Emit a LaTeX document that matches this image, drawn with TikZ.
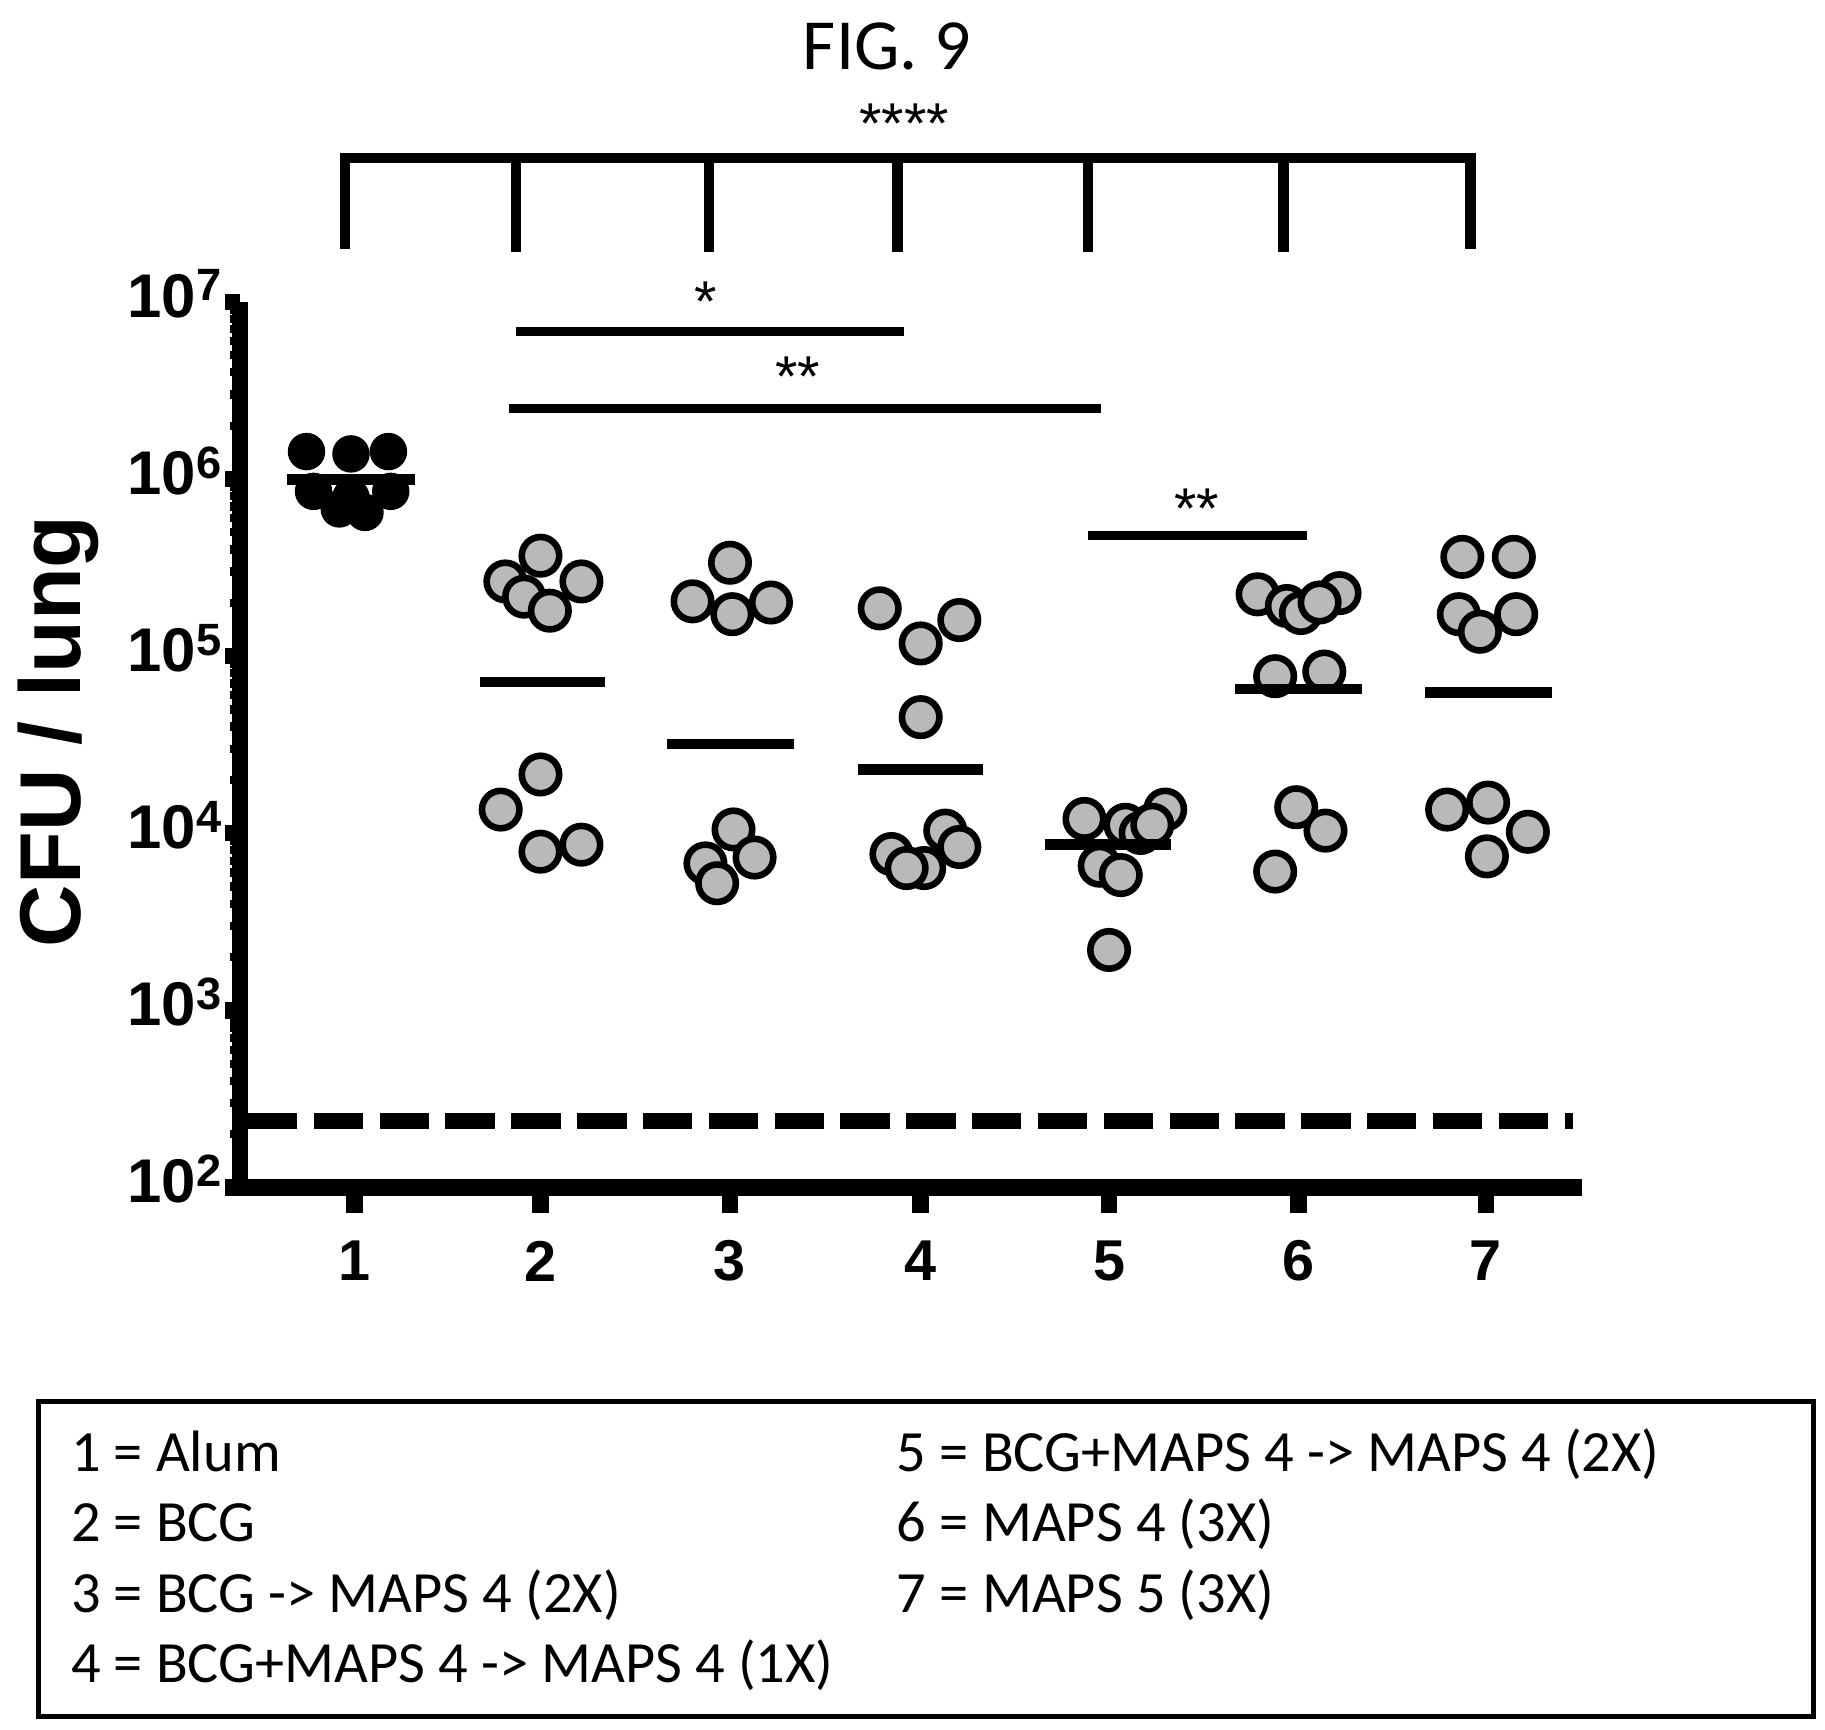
\documentclass[tikz,border=0pt]{standalone}
\usepackage{fontspec}
\setmainfont{Carlito}
\newfontfamily\arialf{Liberation Sans}
\usetikzlibrary{positioning}
\begin{document}
\begin{tikzpicture}[x=0.01cm,y=-0.01cm]
        % Define styles
        \tikzset{
            axis/.style={line width=4pt},
            bar/.style={line width=2.6pt},
            sig/.style={line width=2.2pt},
            mean/.style={line width=2.6pt},
            dot/.style={circle, draw=black, line width=1.6pt, fill=gray!55, minimum size=0.32cm, inner sep=0pt},
            blk/.style={circle, fill=black, minimum size=0.32cm, inner sep=0pt},
            ticklab/.style={font=\arialf\bfseries\fontsize{15}{17}\selectfont, anchor=east, inner sep=0pt},
            grplab/.style={font=\arialf\bfseries\fontsize{14}{16}\selectfont},
            stars/.style={font=\arialf\fontsize{14}{14}\selectfont},
            legend/.style={font=\fontsize{14.2}{17}\selectfont, anchor=base west, inner sep=0pt}
        }
        \useasboundingbox (0,0) rectangle (1560,1478);
        % Title
        \node[font=\fontsize{17.5}{20}\selectfont] (title) at (758,40) {FIG. 9};
        % Top bracket
        \coordinate (b1) at (295,213);
        \coordinate (b7) at (1257,213);
        \draw[bar] (b1) -- (295,135) -- (1257,135) -- (b7);
        \foreach \x in {441,606,767,930,1097} \draw[bar] (\x,135) -- (\x,215);
        \node[stars] (s4) at (773,106) {****};
        % Axes
        \coordinate (o) at (205,1015);
        \coordinate (ytop) at (205,258);
        \coordinate (xend) at (1352,1015);
        \draw[axis] (ytop) -- (o) -- (xend);
        % Major ticks and labels
        \foreach \e [count=\i from 0] in {2,...,7} {
            \draw[axis] (205,1015-151.4*\i) -- (192,1015-151.4*\i);
            \node[ticklab] at (190,1008-151.4*\i) {10\raisebox{0.5ex}{\fontsize{11}{12}\selectfont\e}};
        }
        % Minor ticks
        \foreach \i in {0,...,4}
            \foreach \m in {2,...,9}
                \draw[line width=2pt] ({205},{1015-151.4*\i-151.4*log10(\m)}) -- ({197},{1015-151.4*\i-151.4*log10(\m)});
        % Y label
        \node[font=\arialf\bfseries\fontsize{21}{24}\selectfont, rotate=90] (ylab) at (50,625) {CFU / lung};
        % Detection limit
        \draw[line width=4pt, dash pattern=on 12pt off 4pt] (212,958) -- (1345,958);
        % Group ticks and labels
        \foreach \x [count=\g] in {303,462,624,787,948,1110,1270} {
            \draw[axis] (\x,1015) -- (\x,1037);
            \node[grplab] (g\g) at (\x,1078) {\g};
        }
        % Significance lines
        \draw[sig] (441,283) -- (773,283);
        \node[stars] at (603,258) {*};
        \draw[sig] (435,349) -- (941,349);
        \node[stars] at (682,322) {**};
        \draw[sig] (930,458) -- (1117,458);
        \node[stars] at (1023,435) {**};
        % Group 1 (black)
        \foreach \p in {(262,386),(300,388),(332,386),(268,420),(290,435),(312,438),(334,420),(300,425)}
            \node[blk] at \p {};
        % Other groups
        \foreach \p in {(462,475),(432,497),(448,510),(497,497),(470,522),(428,692),(462,662),(462,728),(497,722),
                        (624,481),(592,514),(626,525),(659,515),(627,709),(603,738),(613,755),(645,733),
                        (752,520),(820,530),(787,550),(787,613),(762,730),(808,710),(790,742),(820,724),(775,742),
                        (927,700),(962,705),(996,692),(975,712),(940,740),(958,748),(948,812),(985,705),
                        (1075,508),(1100,518),(1112,524),(1145,507),(1128,515),(1090,578),(1132,574),(1108,690),(1133,710),(1090,745),
                        (1250,476),(1294,476),(1247,525),(1265,540),(1296,525),(1237,692),(1272,686),(1306,711),(1271,732)}
            \node[dot] at \p {};
        % Means
        \draw[mean] (245,410) -- (355,410);
        \draw[mean] (410,583) -- (517,583);
        \draw[mean] (570,636) -- (679,636);
        \draw[mean] (733,658) -- (840,658);
        \draw[mean] (893,722) -- (1001,722);
        \draw[mean] (1056,589) -- (1164,589);
        \draw[mean] (1218,592) -- (1327,592);
        % Legend
        \draw[line width=1.2pt] (33,1198) rectangle (1550,1467);
        \node[legend] (l1) at (60,1258) {1 = Alum};
        \node[legend] (l2) at (60,1318) {2 = BCG};
        \node[legend] (l3) at (60,1378) {3 = BCG -> MAPS 4 (2X)};
        \node[legend] (l4) at (60,1438) {4 = BCG+MAPS 4 -> MAPS 4 (1X)};
        \node[legend] (l5) at (766,1258) {5 = BCG+MAPS 4 -> MAPS 4 (2X)};
        \node[legend] (l6) at (766,1318) {6 = MAPS 4 (3X)};
        \node[legend] (l7) at (766,1378) {7 = MAPS 5 (3X)};
\end{tikzpicture}
\end{document}
